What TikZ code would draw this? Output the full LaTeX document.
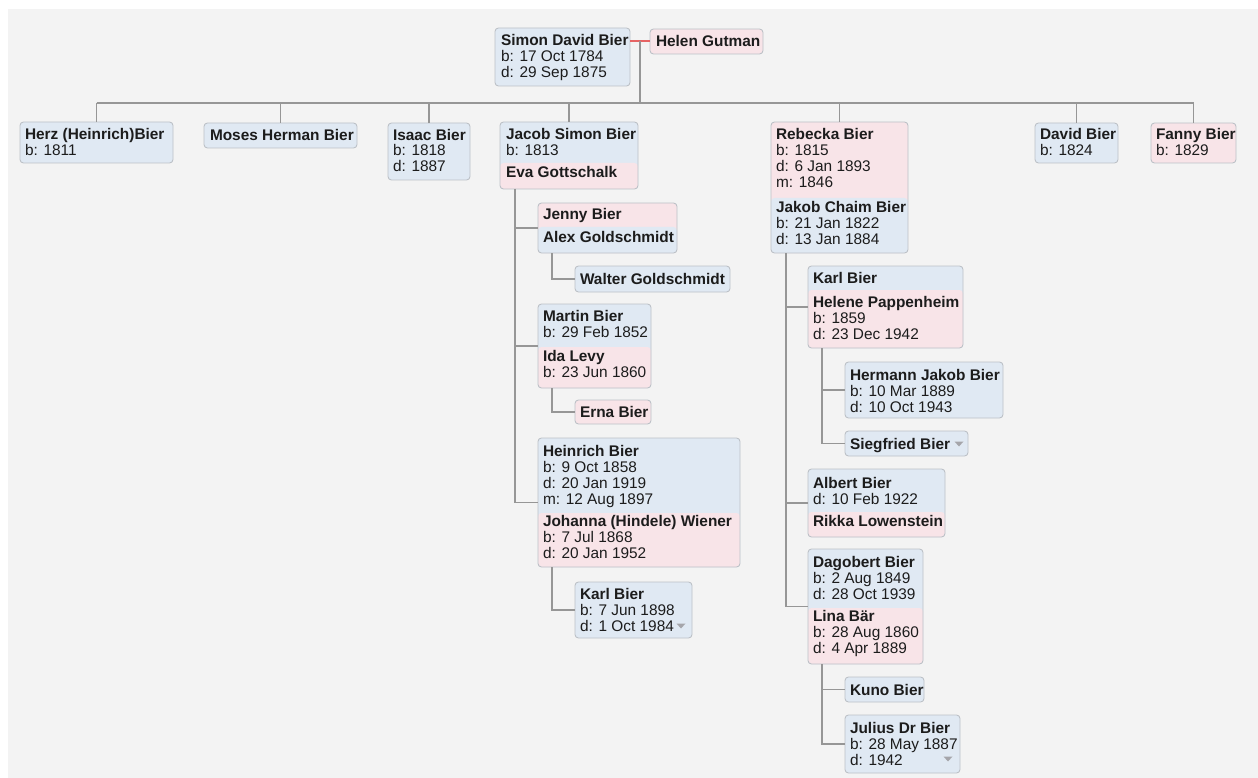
\documentclass[tikz,border=0pt]{standalone}
\usepackage{fontspec}
\setmainfont{Liberation Sans}
\definecolor{bgc}{RGB}{243,243,243}
\definecolor{bluefill}{RGB}{224,233,243}
\definecolor{pinkfill}{RGB}{248,228,232}
\definecolor{cardline}{RGB}{188,193,199}
\definecolor{linkc}{RGB}{150,150,150}
\definecolor{redlink}{RGB}{230,100,100}
\definecolor{txtc}{RGB}{28,28,28}
\definecolor{tric}{RGB}{165,165,170}
\newcommand\mkcard[6]{%
  \pgfmathsetmacro\cardW{#5-#3}\pgfmathsetmacro\cardH{#6-#4}%
  \node[#1, minimum width=\cardW pt, minimum height=\cardH pt] (#2) at (#3,#4) {};}
\newcommand\moretri[2]{\fill[tric] (#1-4.5,#2-2.5) -- (#1+4.5,#2-2.5) -- (#1,#2+2.5) -- cycle;}
\tikzset{
  card/.style={draw=cardline, line width=0.9pt, rounded corners=3.5pt, anchor=north west, inner sep=0pt, outer sep=0pt},
  bluecard/.style={card, fill=bluefill},
  pinkcard/.style={card, fill=pinkfill},
  lowpink/.style={path picture={\fill[pinkfill] ([yshift=-#1pt]path picture bounding box.north west) rectangle (path picture bounding box.south east);}},
  lowblue/.style={path picture={\fill[bluefill] ([yshift=-#1pt]path picture bounding box.north west) rectangle (path picture bounding box.south east);}},
  txt/.style={anchor=north west, inner sep=0pt, outer sep=0pt, align=left, text=txtc, font=\fontsize{15.4}{16}\selectfont},
  link/.style={draw=linkc, line width=1.5pt},
  marriage/.style={draw=redlink, line width=2pt},
}
\newcommand\st{\rule{0pt}{12pt}}
\begin{document}
\begin{tikzpicture}[x=1pt,y=-1pt]
\useasboundingbox (0,0) rectangle (1258,778);
\fill[white] (0,0) rectangle (1258,778);
\fill[bgc] (8,9) rectangle (1258,778);

% ---- cards ----
\mkcard{bluecard}{simon}{495}{28}{630}{86}
\mkcard{pinkcard}{helen}{650}{29}{763}{54}
\mkcard{bluecard}{herz}{20}{122}{173}{163}
\mkcard{bluecard}{moses}{204}{123}{357}{148}
\mkcard{bluecard}{isaac}{388}{123}{470}{180}
\mkcard{bluecard,lowpink=41}{jacob}{500}{122}{638}{189}
\mkcard{pinkcard,lowblue=76}{rebecka}{771}{122}{908}{253}
\mkcard{bluecard}{david}{1035}{123}{1118}{163}
\mkcard{pinkcard}{fanny}{1151}{123}{1236}{163}
\mkcard{pinkcard,lowblue=24}{jenny}{538}{203}{677}{253}
\mkcard{bluecard}{walter}{575}{266}{730}{292}
\mkcard{bluecard,lowpink=43}{martin}{538}{304}{651}{388}
\mkcard{pinkcard}{erna}{575}{400}{651}{424}
\mkcard{bluecard,lowpink=75}{heinrich}{538}{438}{740}{567}
\mkcard{bluecard}{karla}{575}{582}{692}{638}
\mkcard{bluecard,lowpink=24}{karlb}{808}{266}{963}{348}
\mkcard{bluecard}{hermann}{845}{362}{1003}{418}
\mkcard{bluecard}{siegfried}{845}{431}{968}{456}
\mkcard{bluecard,lowpink=43}{albert}{808}{469}{945}{537}
\mkcard{bluecard,lowpink=59}{dagobert}{808}{549}{923}{664}
\mkcard{bluecard}{kuno}{845}{677}{924}{702}
\mkcard{bluecard}{julius}{845}{715}{960}{773}

% ---- texts ----
\node[txt] (simont) at (501,34) {\st\textbf{Simon David Bier}\\b: 17 Oct 1784\\d: 29 Sep 1875};
\node[txt] (helent) at (656,34.5) {\st\textbf{Helen Gutman}};
\node[txt] (herzt) at (25,128) {\st\textbf{Herz (Heinrich)Bier}\\b: 1811};
\node[txt] (mosest) at (210,129) {\st\textbf{Moses Herman Bier}};
\node[txt] (isaact) at (393,128) {\st\textbf{Isaac Bier}\\b: 1818\\d: 1887};
\node[txt] (jacobt) at (506,128) {\st\textbf{Jacob Simon Bier}\\b: 1813};
\node[txt] (evat) at (506,166) {\st\textbf{Eva Gottschalk}};
\node[txt] (rebeckat) at (776,128) {\st\textbf{Rebecka Bier}\\b: 1815\\d: 6 Jan 1893\\m: 1846};
\node[txt] (jakobt) at (776,200) {\st\textbf{Jakob Chaim Bier}\\b: 21 Jan 1822\\d: 13 Jan 1884};
\node[txt] (davidt) at (1040,128) {\st\textbf{David Bier}\\b: 1824};
\node[txt] (fannyt) at (1156,128) {\st\textbf{Fanny Bier}\\b: 1829};
\node[txt] (jennyt) at (543,208) {\st\textbf{Jenny Bier}};
\node[txt] (alext) at (543,231) {\st\textbf{Alex Goldschmidt}};
\node[txt] (waltert) at (580,272) {\st\textbf{Walter Goldschmidt}};
\node[txt] (martint) at (543,309) {\st\textbf{Martin Bier}\\b: 29 Feb 1852};
\node[txt] (idat) at (543,349) {\st\textbf{Ida Levy}\\b: 23 Jun 1860};
\node[txt] (ernat) at (580,405) {\st\textbf{Erna Bier}};
\node[txt] (heinricht) at (543,444) {\st\textbf{Heinrich Bier}\\b: 9 Oct 1858\\d: 20 Jan 1919\\m: 12 Aug 1897};
\node[txt] (johannat) at (543,514) {\st\textbf{Johanna (Hindele) Wiener}\\b: 7 Jul 1868\\d: 20 Jan 1952};
\node[txt] (karlat) at (580,587) {\st\textbf{Karl Bier}\\b: 7 Jun 1898\\d: 1 Oct 1984};
\node[txt] (karlbt) at (813,271) {\st\textbf{Karl Bier}};
\node[txt] (helenet) at (813,295) {\st\textbf{Helene Pappenheim}\\b: 1859\\d: 23 Dec 1942};
\node[txt] (hermannt) at (850,368) {\st\textbf{Hermann Jakob Bier}\\b: 10 Mar 1889\\d: 10 Oct 1943};
\node[txt] (siegfriedt) at (850,437) {\st\textbf{Siegfried Bier}};
\node[txt] (albertt) at (813,476) {\st\textbf{Albert Bier}\\d: 10 Feb 1922};
\node[txt] (rikkat) at (813,514) {\st\textbf{Rikka Lowenstein}};
\node[txt] (dagobertt) at (813,555) {\st\textbf{Dagobert Bier}\\b: 2 Aug 1849\\d: 28 Oct 1939};
\node[txt] (linat) at (813,609) {\st\textbf{Lina Bär}\\b: 28 Aug 1860\\d: 4 Apr 1889};
\node[txt] (kunot) at (850,683) {\st\textbf{Kuno Bier}};
\node[txt] (juliust) at (850,721) {\st\textbf{Julius Dr Bier}\\b: 28 May 1887\\d: 1942};

% ---- expand markers ----
\moretri{681}{626}
\moretri{959}{444}
\moretri{948}{759}

% ---- connectors ----
\coordinate (mj) at (640,41.5);
\coordinate (bus) at (640,103);
\draw[marriage] (helen.west) -- (helen.west -| simon.east);
\draw[link] (mj) -- (mj |- bus);
\draw[link] (herz.north |- bus) -- (fanny.north |- bus);
\foreach \c in {herz,moses,isaac,jacob,rebecka,david,fanny}
  \draw[link] (\c.north |- bus) -- (\c.north);

\coordinate (jt) at ([xshift=15pt]jacob.south west);
\draw[link] (jt) -- (jt |- heinrich.west) -- (heinrich.west);
\draw[link] (jt |- jenny.west) -- (jenny.west);
\draw[link] (jt |- martin.west) -- (martin.west);

\coordinate (jyt) at ([xshift=14pt]jenny.south west);
\draw[link] (jyt) -- (jyt |- walter.west) -- (walter.west);
\coordinate (mt) at ([xshift=14pt]martin.south west);
\draw[link] (mt) -- (mt |- erna.west) -- (erna.west);
\coordinate (ht) at ([xshift=14pt]heinrich.south west);
\draw[link] (ht) -- (ht |- karla.west) -- (karla.west);

\coordinate (rt) at ([xshift=15pt]rebecka.south west);
\draw[link] (rt) -- (rt |- dagobert.west) -- (dagobert.west);
\draw[link] (rt |- karlb.west) -- (karlb.west);
\draw[link] (rt |- albert.west) -- (albert.west);

\coordinate (kt) at ([xshift=14pt]karlb.south west);
\draw[link] (kt) -- (kt |- siegfried.west) -- (siegfried.west);
\draw[link] (kt |- hermann.west) -- (hermann.west);
\coordinate (dt) at ([xshift=14pt]dagobert.south west);
\draw[link] (dt) -- (dt |- julius.west) -- (julius.west);
\draw[link] (dt |- kuno.west) -- (kuno.west);
\end{tikzpicture}
\end{document}
